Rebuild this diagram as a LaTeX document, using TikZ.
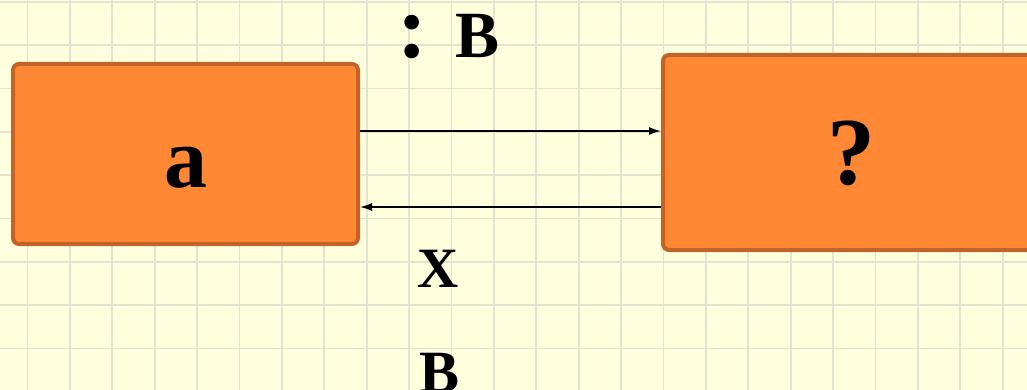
\documentclass[tikz,border=0pt]{standalone}
\usepackage{fontspec}
\setmainfont{Liberation Serif}
\usetikzlibrary{arrows.meta}
\definecolor{bg}{RGB}{255,255,222}
\definecolor{gridc}{RGB}{226,227,208}
\definecolor{boxfill}{RGB}{255,136,52}
\definecolor{boxline}{RGB}{194,100,42}
\tikzset{
  gridline/.style={draw=gridc, line width=1.8pt},
  boxnode/.style={draw=boxline, fill=boxfill, line width=4pt, rounded corners=6pt, inner sep=0pt},
  arr/.style={line width=1.5pt, -{Latex[length=12pt,width=8pt]}},
  lbl/.style={inner sep=0pt, anchor=base},
}
\newcommand{\fsz}[1]{\bfseries\fontsize{#1}{#1}\selectfont}
\begin{document}
\begin{tikzpicture}[x=1pt,y=-1pt]
\useasboundingbox (0,0) rectangle (1027,390);
\clip (0,0) rectangle (1027,390);
\fill[bg] (0,0) rectangle (1027,390);
\foreach \i in {0,...,23} \draw[gridline] ({27.5+42.4*\i},0) -- ++(0,390);
\foreach \j in {0,...,8} \draw[gridline] (0,{2+43.3*\j}) -- ++(1027,0);
\node[boxnode, minimum width=345pt, minimum height=180pt] (a) at (185.5,154) {};
\node[boxnode, minimum width=380pt, minimum height=195pt] (q) at (853,152.5) {};
\node[lbl, font=\fsz{86}] (ta) at (186,187) {a};
\node[lbl, font=\fsz{96}] (tq) at (851,185) {?};
\node[lbl, font=\fsz{90}] (colon) at (412,58) {:};
\node[lbl, font=\fsz{66}] (tb) at (478,58) {B};
\node[lbl, font=\fsz{57}] (tx) at (438,287) {X};
\node[lbl, font=\fsz{60}] (tb2) at (440,392) {B};
\draw[arr] (a.east |- 0,131) -- (q.west |- 0,131);
\draw[arr] (q.west |- 0,207) -- (a.east |- 0,207);
\end{tikzpicture}
\end{document}
